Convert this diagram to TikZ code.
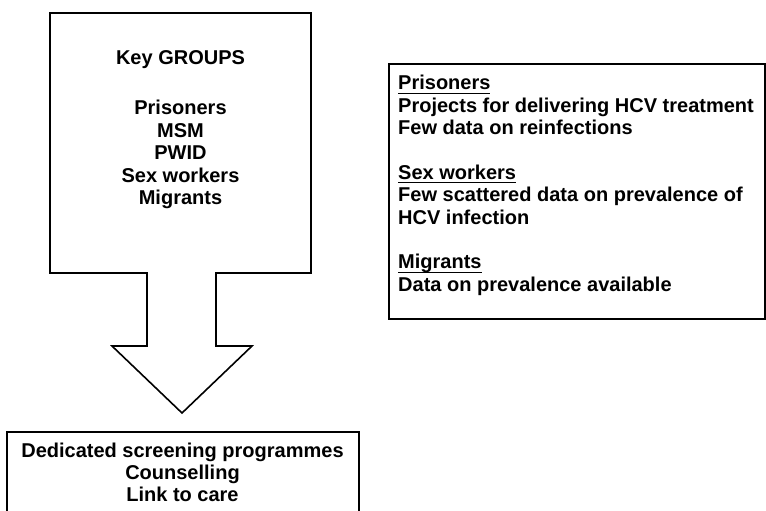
\documentclass[tikz,border=0pt]{standalone}
\usepackage{fontspec}
\setmainfont{Liberation Sans}
\usetikzlibrary{positioning}

\newcommand{\grouphead}[1]{\setbox0=\hbox{#1}\rlap{\rule[-4.2pt]{\wd0}{1.2pt}}\box0}

\begin{document}
\begin{tikzpicture}[
  x=1pt, y=-1pt,
  frame/.style={
    draw,
    line width=1.6pt,
    line join=miter
  },
  label/.style={
    inner sep=0pt,
    anchor=north,
    font=\fontsize{20}{22.4}\selectfont\bfseries
  }
]
\useasboundingbox (0,0) rectangle (766,511);

% --------------------
% Key groups arrow
% --------------------
\draw[frame] (50,13) -- (311,13) -- (311,273) -- (216,273) -- (216,346)
  -- (252,346) -- (182,413) -- (112,346) -- (147,346) -- (147,273)
  -- (50,273) -- cycle;

\node[label, align=center] (groups) at (180.5,50.8)
{Key GROUPS\\[27.6pt]
Prisoners\\
MSM\\
PWID\\
Sex workers\\
Migrants};

% --------------------
% Notes on data
% --------------------
\draw[frame] (389,64) rectangle (765,319);

\node[label, align=left, anchor=north west] (notes) at (398,75)
{\grouphead{Prisoners}\\
Projects for delivering HCV treatment\\
Few data on reinfections\\[22.4pt]
\grouphead{Sex workers}\\
Few scattered data on prevalence of\\
HCV infection\\[22.4pt]
\grouphead{Migrants}\\
Data on prevalence available};

% --------------------
% Interventions
% --------------------
\draw[frame] (7,432) rectangle (359,540);

\node[label, align=center] (care) at (182.5,442.5)
{Dedicated screening programmes\\
Counselling\\
Link to care};

\end{tikzpicture}
\end{document}
